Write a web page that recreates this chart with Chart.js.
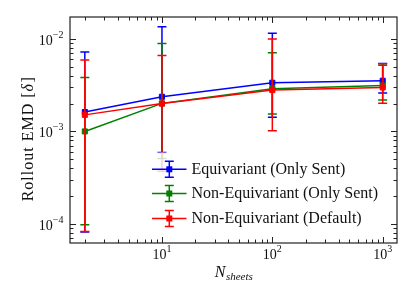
<!DOCTYPE html>
<html><head><meta charset="utf-8">
<script src="https://cdn.jsdelivr.net/npm/chart.js@4"></script>
<style>html,body{margin:0;padding:0;background:#fff}#c{display:block}</style>
</head><body>
<canvas id="c" width="415" height="297"></canvas>
<script>
const nSheets = [2, 10, 100, 1000];
const seriesNames = ["Equivariant (Only Sent)", "Non-Equivariant (Only Sent)", "Non-Equivariant (Default)"];
const eqOnlySentY  = [1.62e-3, 2.37e-3, 3.36e-3, 3.53e-3];
const eqOnlySentHi = [7.2e-3, 1.35e-2, 1.15e-2, 5.43e-3];
const eqOnlySentLo = [8.2e-5, 5.9e-4, 1.42e-3, 2.6e-3];
const neOnlySentY  = [1.0e-3, 2.01e-3, 2.9e-3, 3.14e-3];
const neOnlySentHi = [3.84e-3, 8.9e-3, 7.1e-3, 5.4e-3];
const neOnlySentLo = [9.8e-5, 5.1e-4, 1.54e-3, 2.18e-3];
const neDefaultY   = [1.51e-3, 2.0e-3, 2.8e-3, 2.99e-3];
const neDefaultHi  = [5.9e-3, 6.6e-3, 1.0e-2, 5.2e-3];
const neDefaultLo  = [8.3e-5, 3.7e-4, 1.02e-3, 2.02e-3];
const xMajorTicks = [10, 100, 1000];
const yMajorTicks = [1e-2, 1e-3, 1e-4];
const xTickExp = ["1", "2", "3"];
const yTickExp = ["\u22122", "\u22123", "\u22124"];

const colors = ["#0000ff", "#008000", "#ff0000"];
const SERIF = "'Liberation Serif','DejaVu Serif',serif";
const XMIN = 1.468, XMAX = 1348, YMIN = 6.22e-5, YMAX = 0.01726;

const allY = [eqOnlySentY, neOnlySentY, neDefaultY];
const allHi = [eqOnlySentHi, neOnlySentHi, neDefaultHi];
const allLo = [eqOnlySentLo, neOnlySentLo, neDefaultLo];

const datasets = allY.map((ys, i) => ({
  label: seriesNames[i],
  data: nSheets.map((x, j) => ({x: x, y: ys[j]})),
  hi: allHi[i], lo: allLo[i],
  borderColor: colors[i], backgroundColor: colors[i],
  borderWidth: 1.5, pointStyle: 'rect', pointRadius: 3.6,
  pointBorderWidth: 1, pointBorderColor: colors[i], pointBackgroundColor: colors[i],
  tension: 0, order: 3 - i, fill: false
}));

function drawErr(ctx, x, yLo, yHi, color) {
  ctx.save();
  ctx.strokeStyle = color; ctx.lineWidth = 1.5;
  ctx.beginPath();
  ctx.moveTo(x, yLo); ctx.lineTo(x, yHi);
  ctx.moveTo(x - 4.5, yLo); ctx.lineTo(x + 4.5, yLo);
  ctx.moveTo(x - 4.5, yHi); ctx.lineTo(x + 4.5, yHi);
  ctx.stroke();
  ctx.restore();
}

const errPlugin = {
  id: 'err',
  beforeDatasetDraw(chart, args) {
    const ds = chart.data.datasets[args.index];
    const xs = chart.scales.x, ys = chart.scales.y, ctx = chart.ctx;
    const a = chart.chartArea;
    ctx.save();
    ctx.beginPath(); ctx.rect(a.left, a.top, a.right - a.left, a.bottom - a.top); ctx.clip();
    ds.data.forEach((p, j) => {
      drawErr(ctx, xs.getPixelForValue(p.x), ys.getPixelForValue(ds.lo[j]), ys.getPixelForValue(ds.hi[j]), ds.borderColor);
    });
    ctx.restore();
  },
  afterDatasetsDraw(chart) {
    const ctx = chart.ctx;
    ctx.save();
    ctx.fillStyle = 'rgba(255,255,255,0.8)';
    ctx.fillRect(148, 152.5, 236, 76);
    const rows = [169.3, 193.5, 218.5];
    ctx.font = "16px " + SERIF;
    ctx.textBaseline = 'middle';
    rows.forEach((ry, i) => {
      const c = colors[i];
      ctx.strokeStyle = c; ctx.fillStyle = c; ctx.lineWidth = 1.5;
      ctx.beginPath(); ctx.moveTo(152, ry); ctx.lineTo(186.5, ry); ctx.stroke();
      drawErr(ctx, 169.3, ry + 8, ry - 8, c);
      ctx.fillRect(169.3 - 3, ry - 3, 6, 6);
      ctx.fillStyle = '#111';
      ctx.fillText(seriesNames[i], 191.5, ry + 0.5);
    });
    ctx.restore();
  },
  afterDraw(chart) {
    const ctx = chart.ctx, a = chart.chartArea;
    const xs = chart.scales.x, ys = chart.scales.y;
    ctx.save();
    ctx.strokeStyle = '#222'; ctx.lineWidth = 1;
    const xMinor = [], yMinor = [];
    for (let d = 1; d <= 1000; d *= 10) for (let k = 2; k <= 9; k++) { const v = k * d; if (v > XMIN && v < XMAX) xMinor.push(v); }
    for (let e = -5; e <= -2; e++) for (let k = 2; k <= 9; k++) { const v = k * Math.pow(10, e); if (v > YMIN && v < YMAX) yMinor.push(v); }
    ctx.beginPath();
    const tickX = (v, len) => { const px = Math.round(xs.getPixelForValue(v)) + 0.5; ctx.moveTo(px, a.bottom); ctx.lineTo(px, a.bottom - len); ctx.moveTo(px, a.top); ctx.lineTo(px, a.top + len); };
    const tickY = (v, len) => { const py = Math.round(ys.getPixelForValue(v)) + 0.5; ctx.moveTo(a.left, py); ctx.lineTo(a.left + len, py); ctx.moveTo(a.right, py); ctx.lineTo(a.right - len, py); };
    xMajorTicks.forEach(v => tickX(v, 6)); xMinor.forEach(v => tickX(v, 3.5));
    yMajorTicks.forEach(v => tickY(v, 6)); yMinor.forEach(v => tickY(v, 3.5));
    ctx.stroke();
    ctx.lineWidth = 1.2;
    ctx.strokeRect(a.left, a.top, a.right - a.left, a.bottom - a.top);
    ctx.fillStyle = '#111'; ctx.textBaseline = 'alphabetic';
    xMajorTicks.forEach((v, i) => {
      const px = xs.getPixelForValue(v);
      ctx.font = "14px " + SERIF; const w1 = ctx.measureText("10").width;
      ctx.font = "10px " + SERIF; const w2 = ctx.measureText(xTickExp[i]).width;
      const s = px - (w1 + w2) / 2;
      ctx.font = "14px " + SERIF; ctx.fillText("10", s, 258.5);
      ctx.font = "10px " + SERIF; ctx.fillText(xTickExp[i], s + w1, 251.5);
    });
    yMajorTicks.forEach((v, i) => {
      const py = ys.getPixelForValue(v);
      ctx.font = "10px " + SERIF; const w2 = ctx.measureText(yTickExp[i]).width;
      ctx.font = "14px " + SERIF; const w1 = ctx.measureText("10").width;
      const right = 63.5;
      ctx.fillText("10", right - w2 - w1, py + 6);
      ctx.font = "10px " + SERIF; ctx.fillText(yTickExp[i], right - w2, py - 1);
    });
    ctx.font = "italic 16px " + SERIF; const wn = ctx.measureText("N").width;
    ctx.font = "italic 11px " + SERIF; const ws = ctx.measureText("sheets").width;
    const cx = (a.left + a.right) / 2, sx = cx - (wn + ws) / 2;
    ctx.font = "italic 16px " + SERIF; ctx.fillText("N", sx, 276.5);
    ctx.font = "italic 11px " + SERIF; ctx.fillText("sheets", sx + wn + 0.5, 279.5);
    ctx.save();
    ctx.translate(33, 139); ctx.rotate(-Math.PI / 2);
    ctx.letterSpacing = '1px';
    ctx.font = "16px " + SERIF; const p1 = "Rollout EMD [", p3 = "]";
    const w1 = ctx.measureText(p1).width, w3 = ctx.measureText(p3).width;
    ctx.font = "italic 16px " + SERIF; const w2 = ctx.measureText("\u03b4").width;
    let st = -(w1 + w2 + w3) / 2;
    ctx.font = "16px " + SERIF; ctx.fillText(p1, st, 0);
    ctx.font = "italic 16px " + SERIF; ctx.fillText("\u03b4", st + w1, 0);
    ctx.font = "16px " + SERIF; ctx.fillText(p3, st + w1 + w2 + 0.5, 0);
    ctx.restore();
    ctx.restore();
  }
};

new Chart(document.getElementById('c'), {
  type: 'line',
  data: { datasets: datasets },
  options: {
    responsive: false, animation: false, devicePixelRatio: 1,
    layout: { padding: { left: 70, right: 18, top: 17, bottom: 54 } },
    plugins: { legend: { display: false }, tooltip: { enabled: false } },
    scales: {
      x: { type: 'logarithmic', min: XMIN, max: XMAX, display: false },
      y: { type: 'logarithmic', min: YMIN, max: YMAX, display: false }
    }
  },
  plugins: [errPlugin]
});
</script>
</body></html>
